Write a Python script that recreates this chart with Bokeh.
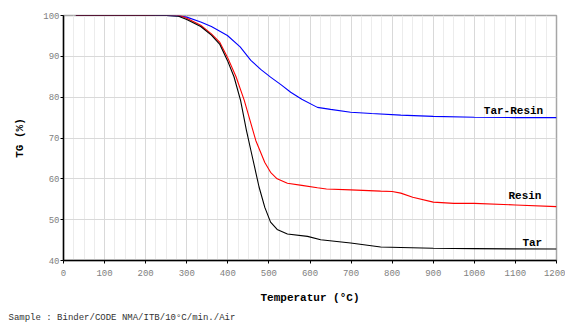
from bokeh.plotting import figure
from bokeh.models import Range1d, SingleIntervalTicker, Title
from bokeh.core.properties import value
from bokeh.embed import file_html
from bokeh.resources import INLINE

# Data
t_tarresin = [30, 100, 200, 250, 280, 300, 334, 360, 399, 430, 456, 480, 504, 530, 553, 580, 618, 650, 699, 750, 821, 900, 1000, 1100, 1200]
tg_tarresin = [100, 100, 100, 100, 99.9, 99.6, 98.4, 97.3, 95.1, 92.3, 89.0, 86.8, 84.9, 83.0, 81.2, 79.5, 77.5, 77.0, 76.3, 76.0, 75.6, 75.3, 75.1, 75.0, 75.0]

t_resin = [30, 100, 200, 250, 280, 300, 334, 360, 380, 399, 420, 440, 468, 490, 504, 520, 545, 580, 618, 640, 699, 772, 800, 821, 850, 900, 950, 1000, 1100, 1200]
tg_resin = [100, 100, 100, 100.2, 100.1, 99.3, 97.6, 95.5, 93.5, 89.8, 85.0, 79.2, 69.4, 64.0, 61.6, 60.0, 58.9, 58.4, 57.8, 57.5, 57.3, 57.0, 56.9, 56.5, 55.5, 54.3, 54.0, 54.0, 53.6, 53.2]

t_tar = [30, 100, 200, 250, 280, 300, 334, 360, 380, 399, 415, 431, 445, 456, 476, 490, 504, 520, 545, 594, 626, 699, 772, 821, 900, 1000, 1200]
tg_tar = [100, 100, 100, 100, 99.8, 99.0, 97.3, 95.2, 93.0, 89.0, 85.0, 79.2, 72.0, 67.0, 58.0, 53.0, 49.4, 47.6, 46.5, 45.9, 45.1, 44.3, 43.3, 43.2, 43.0, 42.9, 42.8]

series_names = ["Tar-Resin", "Resin", "Tar"]
label_x = [1023, 1083, 1117]
label_y = [76.7, 55.7, 44.2]

MONO = "Liberation Mono"

p = figure(width=565, height=326, output_backend="svg", toolbar_location=None,
           x_range=Range1d(0, 1200), y_range=Range1d(40, 100),
           min_border_left=63, min_border_right=9, min_border_top=15, min_border_bottom=20)
p.background_fill_color = "white"
p.border_fill_color = "white"
p.outline_line_color = "#a6a6a6"
p.outline_line_width = 1.5

p.xaxis.ticker = SingleIntervalTicker(interval=100, num_minor_ticks=4)
p.yaxis.ticker = SingleIntervalTicker(interval=10, num_minor_ticks=0)

p.xgrid.grid_line_color = "#d9d9d9"
p.xgrid.minor_grid_line_color = "#ececec"
p.ygrid.grid_line_color = "#d9d9d9"

for ax in (p.xaxis, p.yaxis):
    ax.axis_line_color = "black"
    ax.axis_line_width = 1.5
    ax.major_tick_line_color = "black"
    ax.major_tick_in = 0
    ax.major_tick_out = 3
    ax.minor_tick_line_color = None
    ax.major_label_text_font = MONO
    ax.major_label_text_font_size = "9px"
    ax.major_label_text_color = "#808080"
    ax.axis_label_text_font = MONO
    ax.axis_label_text_font_style = "bold"
    ax.axis_label_text_font_size = "11px"
    ax.axis_label_text_color = "black"

p.xaxis.axis_label = "Temperatur (°C)"
p.xaxis.major_label_standoff = 5
p.xaxis.axis_label_standoff = 13
p.yaxis.axis_label = "TG (%)"
p.yaxis.major_label_standoff = 1
p.yaxis.axis_label_standoff = 14

p.line(t_tarresin, tg_tarresin, line_color="#0000ff", line_width=1.1)
p.line(t_resin, tg_resin, line_color="#ff0000", line_width=1.1)
p.line(t_tar, tg_tar, line_color="black", line_width=1.1)

p.text(x=label_x, y=label_y, text=series_names, text_font=value(MONO),
       text_font_style="bold", text_font_size="11px", text_align="left",
       text_baseline="middle", text_color="black")

footer = Title(text="Sample : Binder/CODE NMA/ITB/10°C/min./Air", align="left",
               text_font=MONO, text_font_size="9px", text_font_style="normal",
               text_color="#333333", offset=-55, standoff=8)
p.add_layout(footer, "below")

open("out.html", "w").write(file_html(p, INLINE))
